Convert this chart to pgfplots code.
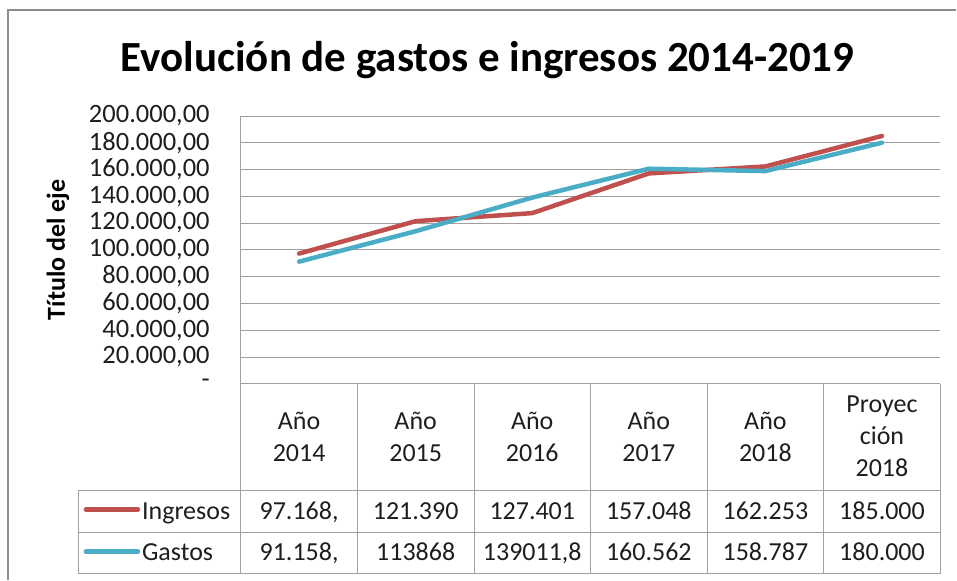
\documentclass[border=0pt]{standalone}
\usepackage{fontspec}
\setmainfont{Carlito}
\usepackage{pgfplots}
\pgfplotsset{compat=1.18}
\definecolor{ing}{HTML}{C0504D}
\definecolor{gas}{HTML}{4BACC6}
\definecolor{grd}{RGB}{160,160,160}
\definecolor{txt}{RGB}{30,30,30}
\begin{document}
\begin{tikzpicture}[x=1pt,y=1pt]
\path (0,0) rectangle (957,580);
\draw[gray!90, line width=1.5pt] (8,0) -- (8,570) -- (957,570);
\node[font=\fontsize{43}{50}\selectfont\bfseries, text=black] at (488,520) {Evolución de gastos e ingresos 2014-2019};
\node[rotate=90, font=\fontsize{26}{30}\selectfont\bfseries, text=black] at (58,330) {Título del eje};
\begin{axis}[
  at={(241pt,196pt)}, anchor=south west, scale only axis,
  width=700pt, height=268pt,
  xmin=0, xmax=6, ymin=0, ymax=200000,
  scaled y ticks=false,
  ytick={0,20000,...,200000},
  yticklabels={{-\hspace{0.5em}},{20.000,00},{40.000,00},{60.000,00},{80.000,00},{100.000,00},{120.000,00},{140.000,00},{160.000,00},{180.000,00},{200.000,00}},
  yticklabel style={font=\fontsize{26.5}{30}\selectfont, text=txt, anchor=east, inner sep=0pt, xshift=-31pt},
  xtick={0.5,1.5,2.5,3.5,4.5,5.5},
  xticklabels={{Año\\2014},{Año\\2015},{Año\\2016},{Año\\2017},{Año\\2018},{Proyec\\ción\\2018}},
  xticklabel style={font=\fontsize{26}{32}\selectfont, text=txt, align=center, anchor=center, yshift=-53pt},
  tick style={draw=none},
  ymajorgrids, grid style={grd, line width=0.8pt},
  axis lines*=left, axis line style={grd, line width=0.8pt, -},
  clip=false,
]
\addplot[ing, line width=4.5pt, line cap=round, line join=round] coordinates {(0.5,97168) (1.5,121390) (2.5,127401) (3.5,157048) (4.5,162253) (5.5,185000)};
\addplot[gas, line width=4.5pt, line cap=round, line join=round] coordinates {(0.5,91158) (1.5,113868) (2.5,139011.8) (3.5,160562) (4.5,158787) (5.5,180000)};
\end{axis}
\foreach \x in {241,357.7,474.3,591,707.7,824.3,941} \draw[grd, line width=0.8pt] (\x,196) -- (\x,6);
\foreach \y in {89.3,47,6} \draw[grd, line width=0.8pt] (78,\y) -- (941,\y);
\draw[grd, line width=0.8pt] (78,89.3) -- (78,6);
\draw[ing, line width=4.5pt, line cap=round] (86,70) -- (138,70);
\draw[gas, line width=4.5pt, line cap=round] (86,28) -- (138,28);
\begin{scope}[every node/.style={font=\fontsize{26}{30}\selectfont, text=txt, anchor=base, inner sep=0pt}]
\node[anchor=base west] at (142,60) {Ingresos};
\node[anchor=base west] at (142,19) {Gastos};
\foreach \x/\v in {299.3/{97.168,},416/121.390,532.7/127.401,649.3/157.048,766/162.253,882.7/185.000}
  \node at (\x,60) {\v};
\foreach \x/\v in {299.3/{91.158,},416/113868,532.7/{139011,8},649.3/160.562,766/158.787,882.7/180.000}
  \node at (\x,19) {\v};
\end{scope}
\end{tikzpicture}
\end{document}
